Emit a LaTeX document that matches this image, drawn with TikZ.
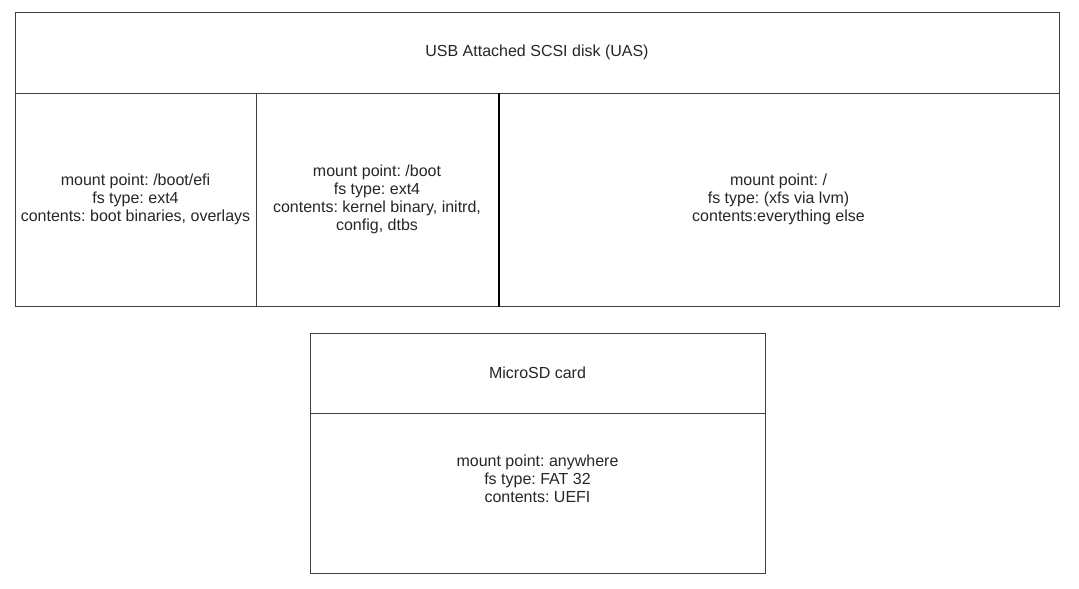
\documentclass[tikz,border=0pt]{standalone}
\usepackage{fontspec}
\setmainfont{Liberation Sans}
\usepackage{tikz}
\usetikzlibrary{arrows.meta}
\frenchspacing

\tikzset{
  cell/.style={draw=black!75, line width=0.75pt, rectangle, inner sep=0pt,
    align=center, text=black!85, font=\fontsize{12pt}{13.5pt}\selectfont},
  note/.style={align=center, inner sep=0pt, text=black!85,
    font=\fontsize{12pt}{13.5pt}\selectfont}
}

\begin{document}
\begin{tikzpicture}[x=0.75pt, y=-0.75pt]

  \useasboundingbox (0,0) rectangle (1079,589);

  \begin{scope}

  % USB disk
  \draw (537,52.5) node [cell, name=usb, minimum width=783pt, minimum height=60.75pt]
    {USB Attached SCSI disk (UAS)};
  \draw (135.5,199.5) node [cell, name=efi, minimum width=180.75pt, minimum height=159.75pt]
    {mount point: /boot/efi\\fs type: ext4\\contents: boot binaries, overlays};
  \draw (377,199.5) node [cell, name=boot, minimum width=181.5pt, minimum height=159.75pt]
    {mount point: /boot\\fs type: ext4\\contents: kernel binary, initrd,\\config, dtbs};
  \draw (778.5,199.5) node [cell, name=root, minimum width=420.75pt, minimum height=159.75pt]
    {mount point: /\\fs type: (xfs via lvm)\\contents:everything else};

  \draw [line width=1.5pt] (boot.north east) -- (boot.south east);

  \end{scope}

  \begin{scope}

  % MicroSD
  \draw (537.5,373) node [cell, name=sd, minimum width=341.25pt, minimum height=60pt]
    {MicroSD card};
  \draw (537.5,493) node [cell, name=sdbody, minimum width=341.25pt, minimum height=120pt] {};
  \draw (537.5,479) node [note, name=sdtext]
    {mount point: anywhere\\fs type: FAT 32\\contents: UEFI};

  \end{scope}

\end{tikzpicture}
\end{document}
